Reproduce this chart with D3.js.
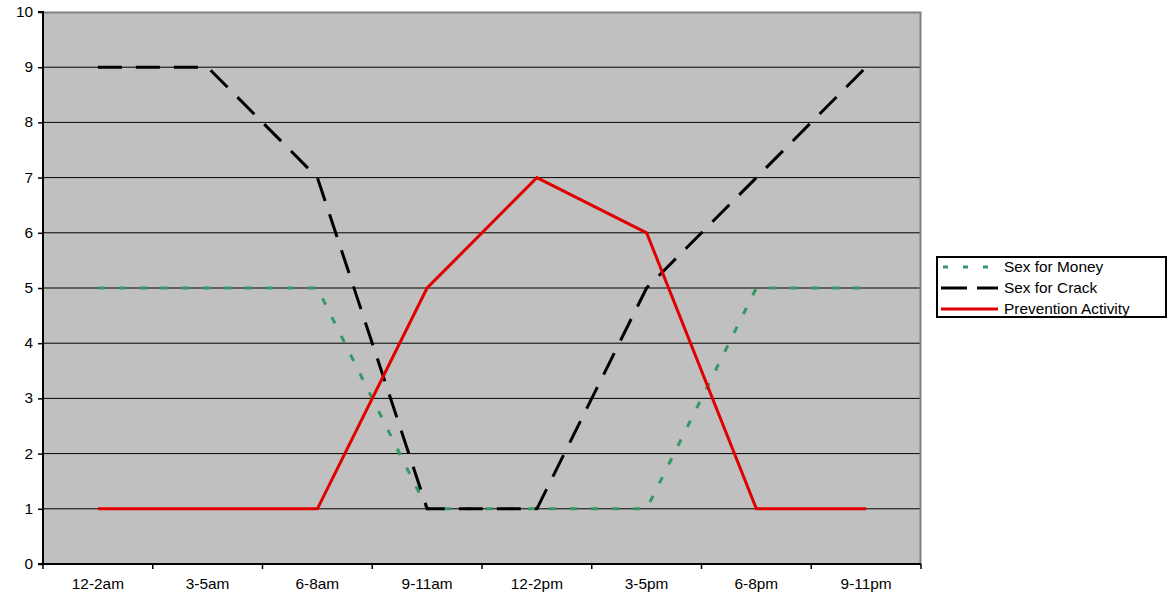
<!DOCTYPE html>
<html><head><meta charset="utf-8">
<script src="https://cdn.jsdelivr.net/npm/d3@7"></script>
<style>body{margin:0;background:#fff;}svg{display:block;font-family:"Liberation Sans",Arial,sans-serif;}</style>
</head><body>
<svg id="c" width="1172" height="597"></svg>
<script>
const categories = ["12-2am","3-5am","6-8am","9-11am","12-2pm","3-5pm","6-8pm","9-11pm"];
const sexForMoney = [5,5,5,1,1,1,5,5];
const sexForCrack = [9,9,7,1,1,5,7,9];
const prevention = [1,1,1,5,7,6,1,1];
const yTicks = [0,1,2,3,4,5,6,7,8,9,10];
const seriesNames = ["Sex for Money","Sex for Crack","Prevention Activity"];

const svg = d3.select("#c");
const L = 43, T = 12, R = 921, B = 564;
const FS = 14, SX = 1.1;
const x = d3.scaleBand().domain(categories).range([L, R]);
const y = d3.scaleLinear().domain([0, 10]).range([B, T]);

svg.append("rect").attr("x", L).attr("y", T).attr("width", R - L).attr("height", B - T)
  .attr("fill", "#c0c0c0");
// gridlines
svg.append("g").selectAll("line").data(yTicks.filter(d => d > 0 && d < 10)).join("line")
  .attr("x1", L).attr("x2", R).attr("y1", d => y(d)).attr("y2", d => y(d))
  .attr("stroke", "#000").attr("stroke-width", 1);
// border top/right gray
svg.append("path").attr("d", `M${L},${T+0.5}H${R-0.5}V${B}`).attr("fill", "none")
  .attr("stroke", "#808080").attr("stroke-width", 2);

// y axis
const ya = svg.append("g").attr("transform", `translate(${L},0)`)
  .call(d3.axisLeft(y).tickValues(yTicks).tickSize(5).tickPadding(0).tickFormat(d3.format("d")));
ya.select(".domain").attr("stroke", "#000").attr("stroke-width", 2).attr("d", `M-5,${T}H0V${B}H-5`);
ya.selectAll(".tick line").attr("stroke", "#000").attr("stroke-width", 1.5);
ya.selectAll("text").attr("font-size", FS).attr("fill", "#000").attr("font-family", "Liberation Sans, Arial")
  .attr("x", 0).attr("transform", `translate(-10,0) scale(${SX},1)`);

// x axis
const xa = svg.append("g").attr("transform", `translate(0,${B})`)
  .call(d3.axisBottom(x).tickSize(0).tickPadding(15));
xa.select(".domain").attr("stroke", "#000").attr("stroke-width", 2).attr("d", `M${L},0H${R}`);
xa.selectAll("text").attr("font-size", FS).attr("fill", "#000").attr("font-family", "Liberation Sans, Arial")
  .attr("transform", `scale(${SX},1)`);
svg.append("g").selectAll("line").data(categories.map(c => x(c)).concat([R])).join("line")
  .attr("x1", d => d).attr("x2", d => d).attr("y1", B).attr("y2", B + 5)
  .attr("stroke", "#000").attr("stroke-width", 1.5);

const cx = c => x(c) + x.bandwidth() / 2;
const line = d3.line().x((d, i) => cx(categories[i])).y(d => y(d));
const styles = [
  {data: sexForMoney, color: "#339966", dash: "7 14"},
  {data: sexForCrack, color: "#000000", dash: "24 14"},
  {data: prevention, color: "#e00000", dash: null}
];
styles.forEach(s => {
  svg.append("path").datum(s.data).attr("d", line).attr("fill", "none")
    .attr("stroke", s.color).attr("stroke-width", 3)
    .attr("stroke-dasharray", s.dash).attr("stroke-linejoin", "miter");
});

// legend
const lg = svg.append("g");
lg.append("rect").attr("x", 937).attr("y", 257).attr("width", 229).attr("height", 60)
  .attr("fill", "#fff").attr("stroke", "#000").attr("stroke-width", 2);
seriesNames.forEach((n, i) => {
  const yy = 267 + i * 21;
  lg.append("line").attr("x1", 941).attr("x2", 998).attr("y1", yy).attr("y2", yy)
    .attr("stroke", styles[i].color).attr("stroke-width", 3)
    .attr("stroke-dasharray", i === 0 ? "5 15" : (i === 1 ? "26 10" : null))
    .attr("stroke-dashoffset", i === 0 ? -2 : 0);
  lg.append("text").attr("font-size", FS)
    .attr("transform", `translate(1004,${yy + 5}) scale(${SX},1)`).text(n);
});
</script>
</body></html>
